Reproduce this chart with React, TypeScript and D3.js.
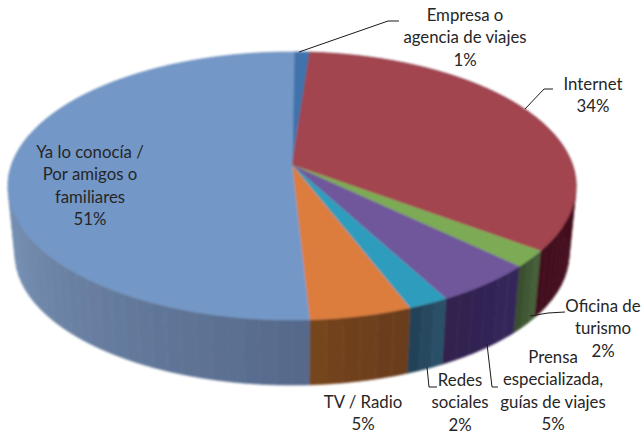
import React from "react";
import * as d3 from "d3";

const categories = ["Empresa o agencia de viajes", "Internet", "Oficina de turismo", "Prensa especializada, guías de viajes", "Redes sociales", "TV / Radio", "Ya lo conocía / Por amigos o familiares"];
const shares = [1, 34, 2, 5, 2, 5, 51];
const topColors = ["#3f72ac", "#a2444f", "#7dab55", "#6f569b", "#2f9cbc", "#dc7d3e", "#7397c6"];
const sideLight = ["#3f5f88", "#551825", "#46603a", "#35265a", "#2a4f68", "#6a3c1e", "#7d98bb"];
const sideDark = ["#30486a", "#420e1d", "#3a4f2e", "#31224e", "#244258", "#74441f", "#55688a"];

const labels = [
  { lines: ["Empresa o", "agencia de viajes", "1%"], x: 465, y: 21 },
  { lines: ["Internet", "34%"], x: 593, y: 90 },
  { lines: ["Oficina de", "turismo", "2%"], x: 603, y: 312 },
  { lines: ["Prensa", "especializada,", "guías de viajes", "5%"], x: 553, y: 363 },
  { lines: ["Redes", "sociales", "2%"], x: 460, y: 386 },
  { lines: ["TV / Radio", "5%"], x: 363, y: 408 },
  { lines: ["Ya lo conocía /", "Por amigos o", "familiares", "51%"], x: 90, y: 158 },
];
const leaders: [number, number][][] = [
  [[399, 21], [388, 21], [299, 52]],
  [[553, 89], [544, 89], [525, 109]],
  [[565, 312], [548, 313], [530, 316]],
  [[498, 387], [492, 387], [487, 344]],
  [[437, 387], [429, 387], [427, 367]],
];

const cx = 292, cy = 165, A = 280.5, B = 130.7, k = 0.1567;
const depth = 69, bottomScale = 0.975;

function project(a: number, bottom = false): [number, number] {
  const s = bottom ? bottomScale : 1;
  const u = Math.sin(a), v = -Math.cos(a), w = 1 - k * v;
  return [cx + (s * A * u) / w, cy + (bottom ? depth : 0) + (s * B * v) / w];
}
function samples(a0: number, a1: number) {
  const n = Math.max(2, Math.ceil((a1 - a0) / 0.01));
  return d3.range(n + 1).map((i) => a0 + ((a1 - a0) * i) / n);
}
const line = d3.line<[number, number]>();
const slices = d3.pie<number>().sort(null).startAngle(0.01).endAngle(2 * Math.PI + 0.01)(shares);

export default function App() {
  const strips: { d: string; fill: string; v: number }[] = [];
  slices.forEach((s, i) => {
    const bands = Math.max(1, Math.round((s.endAngle - s.startAngle) / 0.05));
    const shade = d3.interpolateRgb(sideLight[i], sideDark[i]);
    d3.range(bands).forEach((b) => {
      const a0 = s.startAngle + ((s.endAngle - s.startAngle) * b) / bands;
      const a1 = s.startAngle + ((s.endAngle - s.startAngle) * (b + 1)) / bands;
      const mid = (a0 + a1) / 2;
      const ang = samples(a0, a1);
      const pts = [...ang.map((a) => project(a)), ...ang.slice().reverse().map((a) => project(a, true))];
      // the large slice darkens towards the front of the disc, from its left edge
      const t = i === 6 ? 1 - (mid - s.startAngle) / (1.5 * Math.PI - s.startAngle) : (bands > 1 ? b / (bands - 1) : 0.5);
      strips.push({ d: line(pts as [number, number][])! + "Z", fill: shade(Math.max(0, Math.min(1, t))), v: -Math.cos(mid) });
    });
  });
  strips.sort((a, b) => a.v - b.v);

  return (
    <svg width={643} height={435} style={{ position: "absolute", left: 0, top: 0, background: "#fff" }}>
      <defs>
        <filter id="soft" x="-5%" y="-5%" width="110%" height="110%">
          <feGaussianBlur stdDeviation="0.8" />
        </filter>
      </defs>
      <g filter="url(#soft)">
        {strips.map((s, i) => (
          <path key={i} d={s.d} fill={s.fill} stroke={s.fill} strokeWidth={0.6} />
        ))}
        {slices.map((s, i) => {
          const pts = [[cx, cy] as [number, number], ...samples(s.startAngle, s.endAngle).map((a) => project(a))];
          return <path key={categories[i]} d={line(pts)! + "Z"} fill={topColors[i]} stroke={topColors[i]} strokeWidth={0.4} />;
        })}
      </g>
      {leaders.map((l, i) => (
        <path key={i} d={line(l)!} fill="none" stroke="#1a1a1a" strokeWidth={1} />
      ))}
      {labels.map((l, i) => (
        <text key={i} textAnchor="middle" fontFamily="Lato, sans-serif" fontSize={16.8} fill="#262626">
          {l.lines.map((t, j) => (
            <tspan key={j} x={l.x} y={l.y + j * 22.3}>{t}</tspan>
          ))}
        </text>
      ))}
    </svg>
  );
}
